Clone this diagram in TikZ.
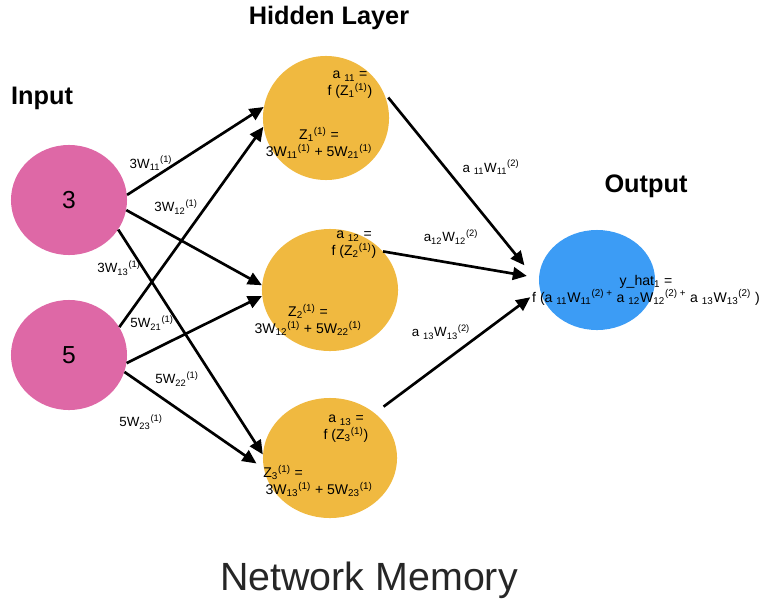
\documentclass[tikz,border=0pt]{standalone}
\usepackage{fontspec}
\setmainfont{Liberation Sans}
\usepackage{xcolor}
\usepackage{tikz}
\usetikzlibrary{shapes,arrows.meta,positioning}

\definecolor{inpink}{RGB}{222,104,166}
\definecolor{hidorange}{RGB}{240,185,64}
\definecolor{outblue}{RGB}{60,156,245}

\newcommand{\wsym}[2]{W\textsubscript{#1}\textsuperscript{(#2)}}
\newcommand{\zsym}[1]{Z\textsubscript{#1}\textsuperscript{(1)}}

\begin{document}
\begin{tikzpicture}[x=0.025cm, y=-0.025cm,
    every node/.style={inner sep=0pt},
    inputnode/.style={ellipse, fill=inpink, minimum width=2.9cm, minimum height=2.75cm, font=\fontsize{17.5}{20}\selectfont},
    hidnode/.style={ellipse, fill=hidorange},
    outnode/.style={ellipse, fill=outblue, minimum width=2.9cm, minimum height=2.5cm},
    conn/.style={-{Triangle[length=10pt,width=9pt]}, line width=1.9pt},
    txt/.style={font=\fontsize{10}{12}\selectfont, align=center},
    wlabel/.style={font=\fontsize{9.5}{12}\selectfont},
    title/.style={font=\fontsize{18}{20}\selectfont\bfseries}]
    \useasboundingbox (0,0) rectangle (763,605);

    % Layers
    \node [inputnode] (in1) at (69,200) {3};
    \node [inputnode] (in2) at (69,355) {5};
    \node [hidnode, minimum width=3.15cm, minimum height=3.1cm] (h1) at (326,118) {};
    \node [hidnode, minimum width=3.4cm, minimum height=3.05cm] (h2) at (330,290) {};
    \node [hidnode, minimum width=3.35cm, minimum height=3.0cm] (h3) at (330,458) {};
    \node [outnode] (out) at (597,280) {};

    % Titles
    \node [title] (tin) at (42,98) {Input};
    \node [title] (thid) at (329,18) {Hidden Layer};
    \node [title] (tout) at (646,186) {Output};
    \node [font=\fontsize{28}{32}\selectfont, text=black!85] (tnet) at (369,580) {Network Memory};

    % Texts in the hidden and output nodes
    \node [txt] (h1a) at (350,85) {a \textsubscript{11} =\\ f (\zsym{1})};
    \node [txt] (h1z) at (319,143) {\zsym{1} =\\ 3\wsym{11}{1} + 5\wsym{21}{1}};
    \node [txt] (h2a) at (354,245) {a \textsubscript{12} =\\ f (\zsym{2})};
    \node [txt] (h2z) at (308,320) {\zsym{2} =\\ 3\wsym{12}{1} + 5\wsym{22}{1}};
    \node [txt] (h3a) at (346,429) {a \textsubscript{13} =\\ f (\zsym{3})};
    \node [txt, align=left, anchor=west] (h3z) at (263,481) {\zsym{3} =\\ \,3\wsym{13}{1} + 5\wsym{23}{1}};
    \node [txt] (ya) at (646,290) {y\_hat\textsubscript{1} =\\ f (a \textsubscript{11}W\textsubscript{11}\textsuperscript{(2) +} a \textsubscript{12}W\textsubscript{12}\textsuperscript{(2) +} a \textsubscript{13}W\textsubscript{13}\textsuperscript{(2)} )};

    % Input to hidden
    \draw [conn] (in1.5) -- (h1.170);
    \draw [conn] (in1.-10) -- (h2.176);
    \draw [conn] (in1.-31) -- (h3.177);
    \draw [conn] (in2.29) -- (h1.188);
    \draw [conn] (in2.-8) -- (h2.185);
    \draw [conn, shorten >=0.22cm] (in2.-17) -- (h3.189);

    % Hidden to output
    \draw [conn, shorten <=0.2cm, shorten >=0.57cm] (h1.25) -- (out.183);
    \draw [conn, shorten >=0.3cm] (h2.36) -- (out.178);
    \draw [conn, shorten <=0.27cm, shorten >=0.3cm] (h3.45) -- (out.190);

    % Weight labels
    \node [wlabel] (l11) at (151,163) {3\wsym{11}{1}};
    \node [wlabel] (l12) at (176,207) {3\wsym{12}{1}};
    \node [wlabel] (l13) at (119,268) {3\wsym{13}{1}};
    \node [wlabel] (l21) at (152,323) {5\wsym{21}{1}};
    \node [wlabel] (l22) at (177,379) {5\wsym{22}{1}};
    \node [wlabel] (l23) at (141,422) {5\wsym{23}{1}};
    \node [wlabel] (m1) at (491,167) {a \textsubscript{11}\wsym{11}{2}};
    \node [wlabel] (m2) at (451,237) {a\textsubscript{12}\wsym{12}{2}};
    \node [wlabel] (m3) at (441,332) {a \textsubscript{13}\wsym{13}{2}};
\end{tikzpicture}
\end{document}
